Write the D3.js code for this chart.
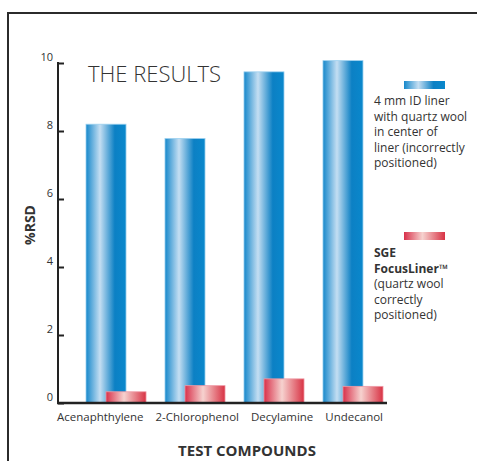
<!DOCTYPE html>
<html>
<head>
<meta charset="utf-8">
<script src="https://cdn.jsdelivr.net/npm/d3@7"></script>
<style>
  body { margin: 0; background: #fff; }
  svg { display: block; font-family: "Open Sans", "Noto Sans", sans-serif; }
</style>
</head>
<body>
<div id="chart"></div>
<script>
// data
const compounds = ["Acenaphthylene", "2-Chlorophenol", "Decylamine", "Undecanol"];
const wrongLiner = [8.2, 7.78, 9.74, 10.07];   // 4 mm ID liner, wool in centre
const focusLiner = [0.33, 0.51, 0.71, 0.49];   // SGE FocusLiner
const yTicks = [0, 2, 4, 6, 8, 10];
const legendBlue = ["4 mm ID liner", "with quartz wool", "in center of", "liner (incorrectly", "positioned)"];
const legendRedBold = ["SGE", "FocusLiner™"];
const legendRed = ["(quartz wool", "correctly", "positioned)"];

const W = 477, H = 461;
const margin = {top: 63, left: 58, bottom: 58, right: 90};
const txt = "#333";

let svg = d3.select("#chart").append("svg")
    .attr("width", W)
    .attr("height", H);

let defs = svg.append("defs");

function addGrad(id, stops) {
    let g = defs.append("linearGradient").attr("id", id)
        .attr("x1", "0%").attr("x2", "100%").attr("y1", "0%").attr("y2", "0%");
    stops.forEach(s => g.append("stop").attr("offset", s[0]).attr("stop-color", s[1]));
}
addGrad("blueGrad", [["0%", "#1688cb"], ["35%", "#c4def2"], ["72%", "#0c80c4"], ["100%", "#0a88cc"]]);
addGrad("redGrad", [["0%", "#d8304a"], ["45%", "#f6d2cf"], ["100%", "#d83244"]]);

// frame
svg.append("rect")
    .attr("x", 8).attr("y", 13)
    .attr("width", 520).attr("height", 520)
    .attr("fill", "none")
    .attr("stroke", "#2b2b2b")
    .attr("stroke-width", 2);

let x0 = margin.left, x1 = 387;
let y = d3.scaleLinear().domain([0, 10]).range([H - margin.bottom, margin.top]);

// one band per compound, the blue and red bars overlap inside it
let x = d3.scaleBand().domain(compounds).range([x0 + 28, x1 - 4]).paddingInner(0.24).paddingOuter(0);
let barW = x.bandwidth() * 2 / 3;
let shift = x.bandwidth() - barW;

// title
svg.append("text")
    .attr("x", 88).attr("y", 82)
    .attr("fill", txt)
    .style("font-size", "22px")
    .style("font-weight", 300)
    .text("THE RESULTS");

// blue bars
svg.append("g").selectAll("rect")
    .data(compounds)
    .enter()
    .append("rect")
    .attr("x", d => x(d))
    .attr("y", (d, i) => y(wrongLiner[i]))
    .attr("width", barW)
    .attr("height", (d, i) => y(0) - y(wrongLiner[i]))
    .attr("fill", "url(#blueGrad)")
    .attr("stroke", "#9cd0ef")
    .attr("stroke-width", 0.8);

// red bars
svg.append("g").selectAll("rect")
    .data(compounds)
    .enter()
    .append("rect")
    .attr("x", d => x(d) + shift)
    .attr("y", (d, i) => y(focusLiner[i]))
    .attr("width", barW)
    .attr("height", (d, i) => y(0) - y(focusLiner[i]))
    .attr("fill", "url(#redGrad)")
    .attr("stroke", "#ef9aa6")
    .attr("stroke-width", 0.8);

// y axis
let yAxis = svg.append("g")
    .attr("transform", `translate(${x0},0)`)
    .call(d3.axisRight(y).tickValues(yTicks).tickSize(6).tickFormat(""));
yAxis.select(".domain").remove();
yAxis.selectAll("line").attr("stroke", "#222").attr("stroke-width", 2);
svg.append("line")
    .attr("x1", x0).attr("x2", x0)
    .attr("y1", y(10) - 1).attr("y2", y(0) + 1)
    .attr("stroke", "#222").attr("stroke-width", 2);

svg.append("g").selectAll("text")
    .data(yTicks)
    .enter()
    .append("text")
    .attr("x", x0 - 5)
    .attr("y", d => y(d) - 2)
    .attr("text-anchor", "end")
    .attr("fill", txt)
    .style("font-size", "11px")
    .text(d => d);

// x axis
svg.append("line")
    .attr("x1", x0 - 1).attr("x2", x1)
    .attr("y1", y(0)).attr("y2", y(0))
    .attr("stroke", "#222").attr("stroke-width", 2.5);

// category labels spread across the axis with equal gaps
let catLabels = svg.append("g").selectAll("text")
    .data(compounds)
    .enter()
    .append("text")
    .attr("y", y(0) + 18)
    .attr("fill", txt)
    .style("font-size", "11.5px")
    .text(d => d);
let widths = [];
catLabels.each(function() { widths.push(this.getComputedTextLength()); });
let gap = ((x1 - 4) - (x0 - 1) - d3.sum(widths)) / (compounds.length - 1);
let pos = x0 - 1;
catLabels.attr("x", (d, i) => {
    let p = pos;
    pos += widths[i] + gap;
    return p;
});

// axis titles
svg.append("text")
    .attr("transform", `translate(35,225) rotate(-90)`)
    .attr("text-anchor", "middle")
    .attr("fill", txt)
    .style("font-size", "14px")
    .style("font-weight", "bold")
    .text("%RSD");

svg.append("text")
    .attr("x", 247).attr("y", 456)
    .attr("text-anchor", "middle")
    .attr("fill", txt)
    .style("font-size", "15px")
    .style("font-weight", "bold")
    .text("TEST COMPOUNDS");

// legend
let lx = 374;
svg.append("rect")
    .attr("x", 404).attr("y", 81).attr("width", 41).attr("height", 8)
    .attr("fill", "url(#blueGrad)");
svg.append("g").selectAll("text")
    .data(legendBlue)
    .enter()
    .append("text")
    .attr("x", lx)
    .attr("y", (d, i) => 105 + i * 15.5)
    .attr("fill", txt)
    .style("font-size", "12px")
    .text(d => d);

svg.append("rect")
    .attr("x", 404).attr("y", 232).attr("width", 41).attr("height", 8)
    .attr("fill", "url(#redGrad)");
let redLines = legendRedBold.map(d => ({t: d, b: true})).concat(legendRed.map(d => ({t: d, b: false})));
svg.append("g").selectAll("text")
    .data(redLines)
    .enter()
    .append("text")
    .attr("x", lx)
    .attr("y", (d, i) => 257 + i * 15.5)
    .attr("fill", txt)
    .style("font-size", "12px")
    .style("font-weight", d => d.b ? "bold" : "normal")
    .text(d => d.t);
</script>
</body>
</html>
